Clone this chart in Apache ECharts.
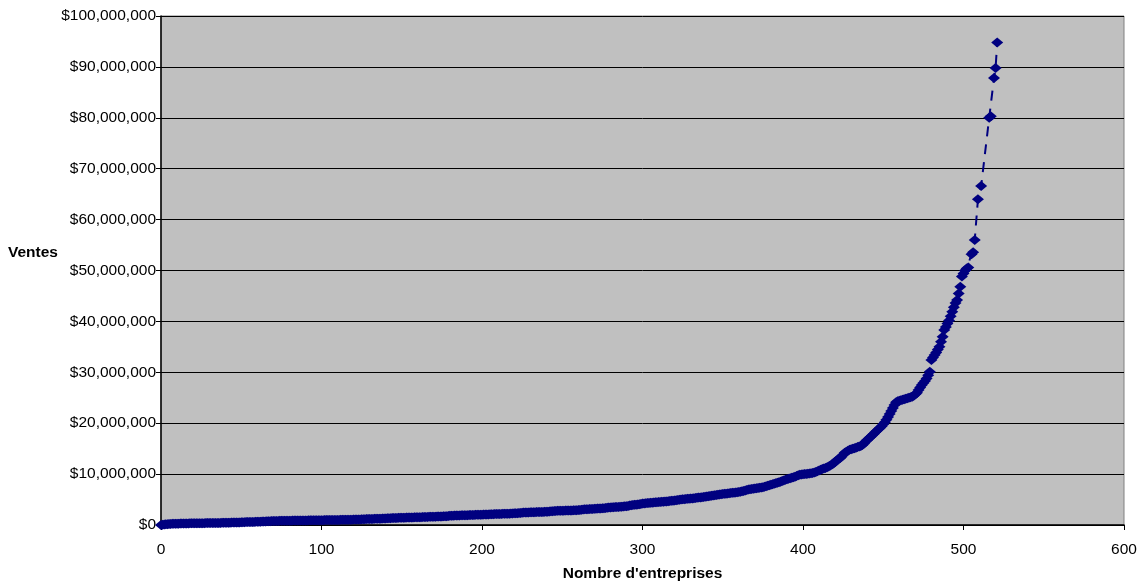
<!DOCTYPE html>
<html>
<head>
<meta charset="utf-8">
<script src="https://cdn.jsdelivr.net/npm/echarts@6/dist/echarts.min.js"></script>
<style>
  html, body { margin: 0; padding: 0; background: #fff; }
  #chart { width: 1143px; height: 582px; }
</style>
</head>
<body>
<div id="chart"></div>
<script>
// Ventes triées (en millions de $), rang = index 0..503
const ventes = [
  0.01, 0.05, 0.09, 0.13, 0.16, 0.19, 0.21, 0.23, 0.24, 0.25,
  0.26, 0.27, 0.28, 0.29, 0.30, 0.30, 0.31, 0.31, 0.32, 0.32,
  0.33, 0.33, 0.34, 0.34, 0.35, 0.35, 0.36, 0.36, 0.37, 0.37,
  0.38, 0.38, 0.39, 0.39, 0.40, 0.40, 0.41, 0.41, 0.42, 0.42,
  0.43, 0.44, 0.45, 0.46, 0.47, 0.48, 0.49, 0.50, 0.50, 0.51,
  0.52, 0.55, 0.56, 0.57, 0.58, 0.59, 0.60, 0.60, 0.61, 0.62,
  0.63, 0.64, 0.65, 0.68, 0.70, 0.71, 0.72, 0.73, 0.74, 0.78,
  0.80, 0.80, 0.81, 0.81, 0.82, 0.82, 0.83, 0.83, 0.84, 0.84,
  0.85, 0.85, 0.86, 0.86, 0.87, 0.87, 0.88, 0.88, 0.89, 0.89,
  0.90, 0.90, 0.91, 0.91, 0.92, 0.92, 0.93, 0.93, 0.94, 0.94,
  0.95, 0.95, 0.96, 0.96, 0.97, 0.97, 0.98, 0.98, 0.99, 0.99,
  1.00, 1.00, 1.01, 1.01, 1.02, 1.02, 1.03, 1.03, 1.04, 1.05,
  1.06, 1.07, 1.08, 1.09, 1.10, 1.12, 1.14, 1.15, 1.16, 1.17,
  1.18, 1.19, 1.20, 1.21, 1.22, 1.23, 1.24, 1.25, 1.26, 1.28,
  1.30, 1.32, 1.34, 1.35, 1.36, 1.37, 1.38, 1.39, 1.40, 1.41,
  1.42, 1.43, 1.44, 1.45, 1.46, 1.47, 1.48, 1.49, 1.50, 1.51,
  1.52, 1.53, 1.54, 1.55, 1.56, 1.57, 1.58, 1.60, 1.61, 1.62,
  1.63, 1.64, 1.65, 1.66, 1.67, 1.68, 1.70, 1.72, 1.74, 1.76,
  1.80, 1.82, 1.84, 1.86, 1.87, 1.88, 1.89, 1.90, 1.91, 1.92,
  1.93, 1.94, 1.95, 1.96, 1.97, 1.98, 1.99, 2.00, 2.01, 2.02,
  2.03, 2.04, 2.05, 2.06, 2.08, 2.10, 2.12, 2.13, 2.14, 2.15,
  2.16, 2.17, 2.18, 2.19, 2.20, 2.21, 2.22, 2.23, 2.25, 2.27,
  2.29, 2.31, 2.33, 2.35, 2.38, 2.42, 2.44, 2.46, 2.47, 2.48,
  2.49, 2.50, 2.51, 2.52, 2.53, 2.54, 2.55, 2.56, 2.57, 2.58,
  2.60, 2.62, 2.64, 2.68, 2.72, 2.75, 2.77, 2.78, 2.79, 2.80,
  2.81, 2.82, 2.83, 2.84, 2.85, 2.86, 2.87, 2.88, 2.90, 2.92,
  2.94, 2.97, 3.00, 3.04, 3.07, 3.09, 3.10, 3.12, 3.14, 3.16,
  3.18, 3.20, 3.22, 3.24, 3.26, 3.28, 3.31, 3.35, 3.40, 3.44,
  3.46, 3.48, 3.50, 3.52, 3.54, 3.56, 3.58, 3.60, 3.63, 3.66,
  3.70, 3.75, 3.82, 3.88, 3.92, 3.96, 4.00, 4.05, 4.10, 4.15,
  4.20, 4.23, 4.26, 4.30, 4.33, 4.36, 4.39, 4.42, 4.45, 4.48,
  4.50, 4.52, 4.55, 4.58, 4.60, 4.63, 4.66, 4.70, 4.74, 4.78,
  4.82, 4.86, 4.90, 4.95, 5.00, 5.04, 5.08, 5.12, 5.15, 5.18,
  5.20, 5.23, 5.26, 5.30, 5.34, 5.38, 5.42, 5.46, 5.50, 5.55,
  5.60, 5.65, 5.70, 5.75, 5.80, 5.85, 5.90, 5.95, 6.00, 6.05,
  6.10, 6.13, 6.16, 6.20, 6.24, 6.28, 6.32, 6.36, 6.40, 6.45,
  6.50, 6.55, 6.62, 6.70, 6.80, 6.88, 6.95, 7.00, 7.05, 7.10,
  7.15, 7.20, 7.25, 7.30, 7.35, 7.42, 7.50, 7.60, 7.70, 7.80,
  7.90, 8.00, 8.10, 8.20, 8.30, 8.40, 8.50, 8.62, 8.75, 8.88,
  9.00, 9.10, 9.20, 9.30, 9.40, 9.50, 9.62, 9.75, 9.85, 9.92,
  9.96, 10.0, 10.03, 10.06, 10.1, 10.15, 10.2, 10.3, 10.4, 10.55,
  10.7, 10.85, 11.0, 11.1, 11.2, 11.35, 11.5, 11.7, 11.9, 12.1,
  12.4, 12.7, 12.9, 13.1, 13.4, 13.8, 14.2, 14.4, 14.6, 14.8,
  14.9, 15.0, 15.1, 15.2, 15.3, 15.4, 15.5, 15.7, 16.0, 16.4,
  16.7, 17.0, 17.3, 17.6, 17.9, 18.2, 18.5, 18.8, 19.1, 19.4,
  19.8, 20.2, 20.7, 21.2, 21.8, 22.4, 23.0, 23.6, 24.1, 24.3,
  24.4, 24.5, 24.6, 24.7, 24.8, 24.9, 25.0, 25.1, 25.2, 25.4,
  25.7, 26.0, 26.5, 27.0, 27.5, 27.9, 28.3, 28.8, 29.4, 30.1,
  32.4, 32.9, 33.4, 33.9, 34.5, 35.0, 36.0, 37.0, 38.3, 38.9,
  39.6, 40.2, 41.0, 41.9, 42.8, 43.6, 44.2, 45.5, 46.8, 48.8,
  49.4, 50.0, 50.4, 50.6
]

// les plus grosses entreprises (rang, ventes en millions)
const rangsHaut = [505, 506, 507, 509, 511, 516, 517, 519, 520, 521]
const ventesHaut = [53.2, 53.6, 56.0, 64.0, 66.6, 80.0, 80.3, 87.8, 89.8, 94.8]

const xTicks = [0, 100, 200, 300, 400, 500, 600]

const points = ventes.map((v, i) => [i, v])
  .concat(rangsHaut.map((r, i) => [r, ventesHaut[i]]))

const chart = echarts.init(document.getElementById("chart"))

const font = "Arial, 'Liberation Sans', sans-serif"

const option = {
  animation: false,
  title: {
    text: "Ventes",
    left: 8,
    top: 245,
    padding: 0,
    textStyle: { fontFamily: font, fontSize: 15.5, fontWeight: "bold", color: "#000" },
  },
  grid: {
    left: 161,
    right: 19,
    top: 16,
    bottom: 57,
    outerBoundsMode: "none",
    show: true,
    backgroundColor: "#c0c0c0",
    borderColor: "#808080",
    borderWidth: 1,
  },
  xAxis: {
    type: "value",
    min: xTicks[0],
    max: xTicks[xTicks.length - 1],
    interval: 100,
    name: "Nombre d'entreprises",
    nameLocation: "middle",
    nameGap: 41,
    nameTextStyle: { fontFamily: font, fontSize: 15.5, fontWeight: "bold", color: "#000" },
    axisLine: { show: true, lineStyle: { color: "#000", width: 1.5 } },
    axisTick: { show: true, inside: false, length: 5, lineStyle: { color: "#000" } },
    axisLabel: { fontFamily: font, fontSize: 15.5, color: "#000", margin: 17 },
    splitLine: { show: false },
  },
  yAxis: {
    type: "value",
    min: 0,
    max: 100,
    interval: 10,
    axisLine: { show: true, lineStyle: { color: "#000", width: 1.5 } },
    axisTick: { show: true, inside: false, length: 5, lineStyle: { color: "#000" } },
    axisLabel: {
      fontFamily: font,
      fontSize: 15.5,
      color: "#000",
      margin: 5,
      formatter: (v) => "$" + (v * 1000000).toLocaleString("en-US"),
    },
    splitLine: { show: true, lineStyle: { color: "#000", width: 1 } },
  },
  series: [
    {
      type: "line",
      data: points,
      symbol: "diamond",
      symbolSize: [12, 10],
      showAllSymbol: true,
      itemStyle: { color: "#000080" },
      lineStyle: { color: "#000080", width: 2, type: [10, 8] },
    },
  ],
}

chart.setOption(option)
</script>
</body>
</html>
